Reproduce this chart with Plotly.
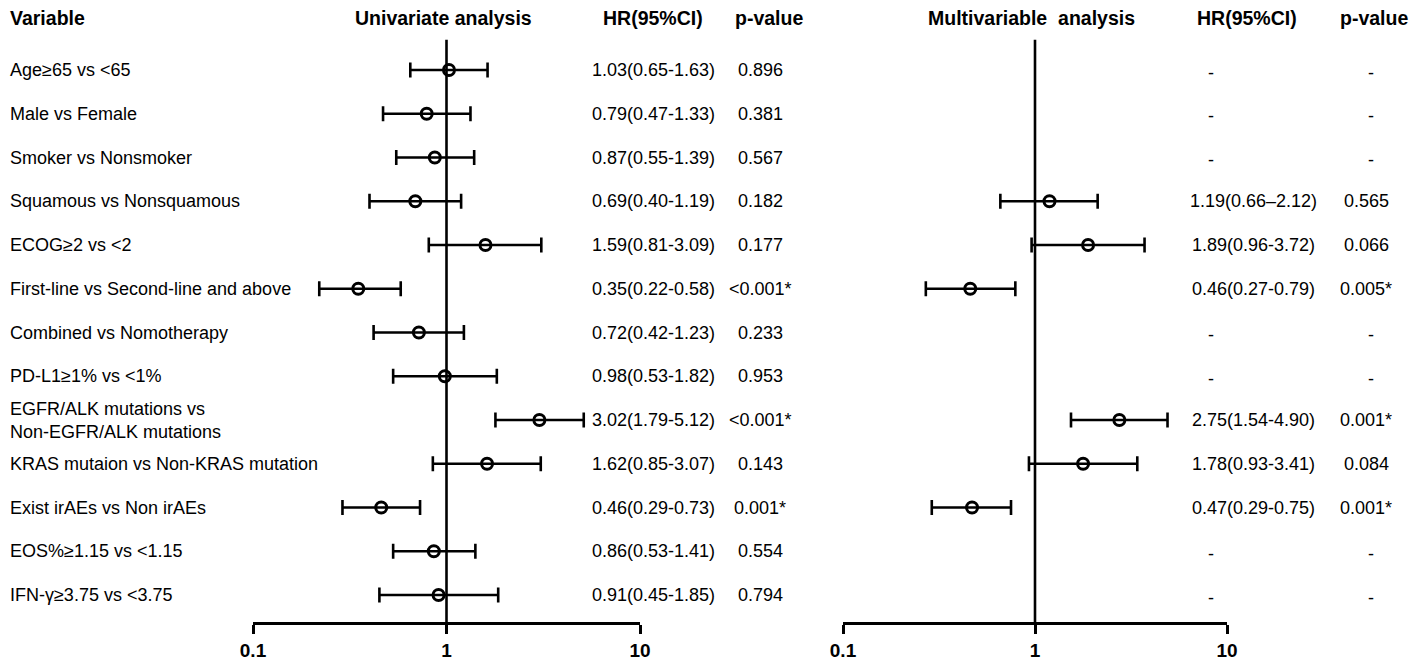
import plotly.graph_objects as go

# rows, top to bottom
variables = [
    "Age≥65 vs <65",
    "Male vs Female",
    "Smoker vs Nonsmoker",
    "Squamous vs Nonsquamous",
    "ECOG≥2 vs <2",
    "First-line vs Second-line and above",
    "Combined vs Nomotherapy",
    "PD-L1≥1% vs <1%",
    "EGFR/ALK mutations vs<br>Non-EGFR/ALK mutations",
    "KRAS mutaion vs Non-KRAS mutation",
    "Exist irAEs vs Non irAEs",
    "EOS%≥1.15 vs <1.15",
    "IFN-γ≥3.75 vs <3.75",
]

# univariate
uni_hr = [1.03, 0.79, 0.87, 0.69, 1.59, 0.35, 0.72, 0.98, 3.02, 1.62, 0.46, 0.86, 0.91]
uni_lo = [0.65, 0.47, 0.55, 0.40, 0.81, 0.22, 0.42, 0.53, 1.79, 0.85, 0.29, 0.53, 0.45]
uni_hi = [1.63, 1.33, 1.39, 1.19, 3.09, 0.58, 1.23, 1.82, 5.12, 3.07, 0.73, 1.41, 1.85]
uni_p = ["0.896", "0.381", "0.567", "0.182", "0.177", "<0.001*", "0.233",
         "0.953", "<0.001*", "0.143", "0.001*", "0.554", "0.794"]

# multivariable (only rows that entered the model)
multi_rows = [3, 4, 5, 8, 9, 10]
multi_hr = [1.19, 1.89, 0.46, 2.75, 1.78, 0.47]
multi_lo = [0.66, 0.96, 0.27, 1.54, 0.93, 0.29]
multi_hi = [2.12, 3.72, 0.79, 4.90, 3.41, 0.75]
multi_ci_text = ["1.19(0.66–2.12)", "1.89(0.96-3.72)", "0.46(0.27-0.79)",
                 "2.75(1.54-4.90)", "1.78(0.93-3.41)", "0.47(0.29-0.75)"]
multi_p = ["0.565", "0.066", "0.005*", "0.001*", "0.084", "0.001*"]

tick_vals = [0.1, 1, 10]
tick_text = ["<b>0.1</b>", "<b>1</b>", "<b>10</b>"]

# the page body has an 8px margin; the figure sits at (8, 8) in the window
PAD = 8
W, H = 1417 - PAD, 660 - PAD
FONT = "Liberation Sans, Arial, sans-serif"
ROW0, STEP = 70 - PAD, 43.75   # figure pixel of first row and row spacing
row_y = list(range(len(variables)))


def px(x):
    # window pixel -> paper fraction
    return (x - PAD) / W


fig = go.Figure()

for xa, hr, lo, hi, ys in [
    ("x", uni_hr, uni_lo, uni_hi, row_y),
    ("x2", multi_hr, multi_lo, multi_hi, multi_rows),
]:
    fig.add_trace(go.Scatter(
        x=hr, y=ys, xaxis=xa, yaxis="y", mode="markers",
        marker=dict(symbol="circle-open", size=11, color="black",
                    line=dict(width=3, color="black")),
        error_x=dict(type="data", symmetric=False,
                     array=[h - m for h, m in zip(hi, hr)],
                     arrayminus=[m - l for m, l in zip(hr, lo)],
                     color="black", thickness=2.6, width=7.5),
        showlegend=False, hoverinfo="skip",
    ))

# reference lines at HR = 1
for xr in ["x", "x2"]:
    fig.add_shape(type="line", xref=xr, yref="y", x0=1, x1=1, y0=-0.69, y1=12.64,
                  line=dict(color="black", width=2.6), layer="below")

ann = []
def txt(x, y, s, anchor="center", size=18, bold=False):
    ann.append(dict(x=px(x), y=y, xref="paper", yref="y", text=f"<b>{s}</b>" if bold else s,
                    showarrow=False, xanchor=anchor, yanchor="middle", align="left",
                    font=dict(family=FONT, size=size, color="black")))

# headers
hy = -1.2
txt(PAD, hy, "Variable", anchor="left", size=19.5, bold=True)
txt(443, hy, "Univariate analysis", size=19.5, bold=True)
txt(653, hy, "HR(95%CI)", size=19.5, bold=True)
txt(769, hy, "p-value", size=19.5, bold=True)
txt(1031, hy, "Multivariable  analysis", size=19.5, bold=True)
txt(1247, hy, "HR(95%CI)", size=19.5, bold=True)
txt(1374, hy, "p-value", size=19.5, bold=True)

for i, v in enumerate(variables):
    txt(PAD, i, v, anchor="left")
    ci = f"{uni_hr[i]:.2f}({uni_lo[i]:.2f}-{uni_hi[i]:.2f})"
    txt(653, i, ci)
    txt(760, i, uni_p[i])
    if i in multi_rows:
        k = multi_rows.index(i)
        txt(1253, i, multi_ci_text[k])
        txt(1366, i, multi_p[k])
    else:
        txt(1211, i + 0.06, "-")
        txt(1371, i + 0.06, "-")

axis_common = dict(type="log", range=[-1, 1], anchor="free", position=1 - (623 - PAD) / H,
                   automargin=False,
                   showline=True, linecolor="black", linewidth=2.8,
                   ticks="outside", ticklen=9, tickwidth=2.8, tickcolor="black",
                   tickvals=tick_vals, ticktext=tick_text, showgrid=False, zeroline=False,
                   tickfont=dict(family=FONT, size=19, color="black"))

fig.update_layout(
    width=W, height=H,
    margin=dict(l=0, r=0, t=0, b=0, autoexpand=False),
    plot_bgcolor="white", paper_bgcolor="white",
    xaxis=dict(domain=[px(253), px(640)], **axis_common),
    xaxis2=dict(domain=[px(843), px(1227)], **axis_common),
    yaxis=dict(range=[(H - ROW0) / STEP, -ROW0 / STEP], visible=False, domain=[0, 1],
               automargin=False),
    annotations=ann,
)

fig.write_html("out.html")
